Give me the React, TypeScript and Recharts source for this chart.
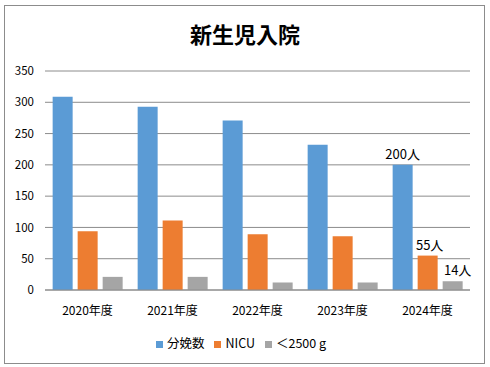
import React from "react";
import { BarChart, Bar, XAxis, YAxis, CartesianGrid, Legend, LabelList } from "recharts";

const years = ["2020年度", "2021年度", "2022年度", "2023年度", "2024年度"];
const births = [309, 293, 271, 232, 200];
const nicu = [94, 111, 89, 86, 55];
const lowWeight = [21, 21, 12, 12, 14];
const yTicks = [0, 50, 100, 150, 200, 250, 300, 350];
const seriesNames = ["分娩数", "NICU", "＜2500 g"];

const data = years.map((y, i) => ({
    year: y,
    births: births[i],
    nicu: nicu[i],
    low: lowWeight[i],
}));

const font = "'Noto Sans CJK JP', 'Noto Sans', sans-serif";
const last = years.length - 1;

// only the latest year gets a value label, like the original
const lastLabel = (dx: number) => (props: any) => {
    const { x, y, width, value, index } = props;
    if (index !== last) return null;
    return (
        <text x={x + width / 2 + dx} y={y - 6} textAnchor="middle" fontSize={13} fill="#000" fontFamily={font}>
            {value}人
        </text>
    );
};

export default function App() {
    return (
        <div style={{ position: "absolute", left: 0, top: 0, width: 490, height: 367, background: "#fff", fontFamily: font }}>
            <div style={{ position: "absolute", left: 4, top: 5, width: 479, height: 357, border: "1px solid #8c8c8c" }} />
            <div style={{ position: "absolute", left: 0, top: 17, width: 490, textAlign: "center", fontSize: 22, fontWeight: 700, color: "#000" }}>
                新生児入院
            </div>
            <div style={{ position: "absolute", left: 0, top: 0 }}>
                <BarChart
                    width={490}
                    height={367}
                    data={data}
                    margin={{ top: 71, right: 20, left: 0, bottom: 24 }}
                    barCategoryGap="9%"
                    barGap={5}
                >
                    <CartesianGrid vertical={false} stroke="#8c8c8c" strokeDasharray="" />
                    <XAxis
                        dataKey="year"
                        axisLine={{ stroke: "#8c8c8c" }}
                        tickLine={false}
                        tickMargin={10}
                        height={34}
                        tick={{ fontSize: 12, fill: "#000", fontFamily: font }}
                    />
                    <YAxis
                        width={45}
                        domain={[0, 350]}
                        ticks={yTicks}
                        axisLine={false}
                        tickLine={false}
                        tickSize={0}
                        tickMargin={11}
                        tick={{ fontSize: 11.5, fill: "#000", fontFamily: font }}
                    />
                    <Legend
                        verticalAlign="bottom"
                        iconType="square"
                        iconSize={7}
                        itemSorter={(item: any) => seriesNames.indexOf(item.value)}
                        wrapperStyle={{ fontSize: 12.5, fontFamily: font, bottom: 15, left: 11 }}
                        formatter={(v: string) => <span style={{ color: "#000" }}>{v}</span>}
                    />
                    <Bar dataKey="births" name={seriesNames[0]} fill="#5B9BD5" isAnimationActive={false}>
                        <LabelList dataKey="births" content={lastLabel(0)} />
                    </Bar>
                    <Bar dataKey="nicu" name={seriesNames[1]} fill="#ED7D31" isAnimationActive={false}>
                        <LabelList dataKey="nicu" content={lastLabel(2)} />
                    </Bar>
                    <Bar dataKey="low" name={seriesNames[2]} fill="#A5A5A5" isAnimationActive={false}>
                        <LabelList dataKey="low" content={lastLabel(5)} />
                    </Bar>
                </BarChart>
            </div>
        </div>
    );
}
